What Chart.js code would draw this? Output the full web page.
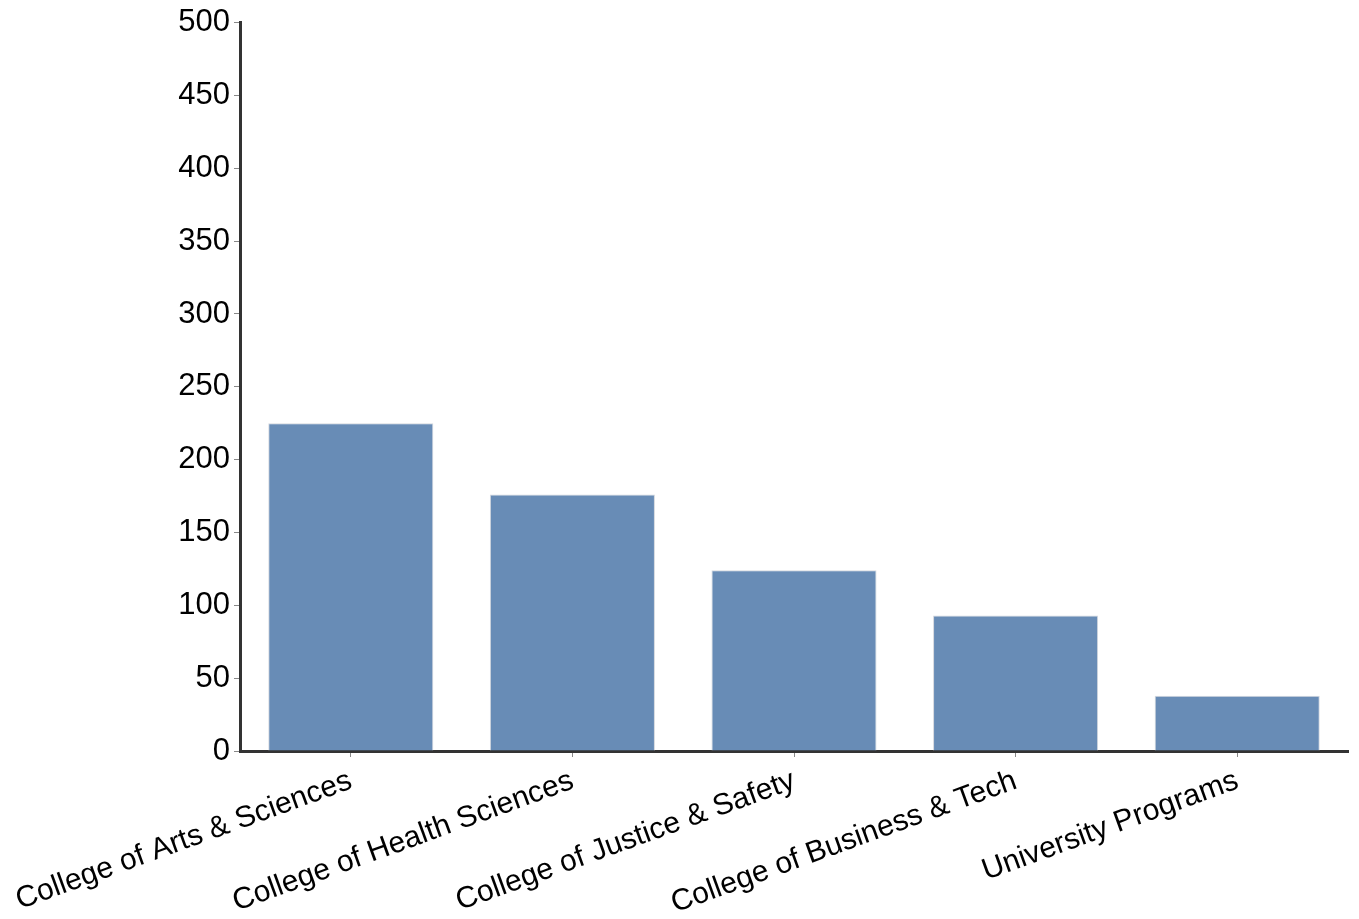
<!DOCTYPE html>
<html>
<head>
<meta charset="utf-8">
<script src="https://cdn.jsdelivr.net/npm/chart.js@4"></script>
<style>
  html, body { margin: 0; padding: 0; background: #fff; }
  #wrap { width: 1359px; height: 919px; }
</style>
</head>
<body>
<div id="wrap"><canvas id="collegeChart" width="1359" height="919"></canvas></div>
<script>
// Data
const colleges = [
  'College of Arts & Sciences',
  'College of Health Sciences',
  'College of Justice & Safety',
  'College of Business & Tech',
  'University Programs'
];
const counts = [225, 176, 124, 93, 38];
const yMin = 0;
const yMax = 500;
const yStep = 50;

const ctx = document.getElementById('collegeChart');
new Chart(ctx, {
  type: 'bar',
  data: {
    labels: colleges,
    datasets: [{
      data: counts,
      backgroundColor: '#688cb6',
      borderColor: '#d4d8de',
      borderWidth: 1,
      barPercentage: 0.745,
      categoryPercentage: 1
    }]
  },
  options: {
    responsive: false,
    animation: false,
    layout: { padding: { top: 19, right: 11, left: 0, bottom: 0 } },
    plugins: { legend: { display: false }, tooltip: { enabled: false } },
    scales: {
      x: {
        grid: { offset: false, drawOnChartArea: false, drawTicks: true, tickLength: 6, tickColor: '#888' },
        border: { color: '#333', width: 3 },
        ticks: {
          color: '#000',
          font: { family: 'Liberation Sans, Arial, sans-serif', size: 30 },
          autoSkip: false,
          minRotation: 20,
          maxRotation: 20,
          padding: 6
        },
        afterFit: s => { s.height = 168; s.paddingLeft = 0; s.paddingRight = 0; }
      },
      y: {
        min: yMin,
        max: yMax,
        grid: { drawOnChartArea: false, drawTicks: true, tickLength: 6, tickColor: '#888' },
        border: { color: '#333', width: 3 },
        ticks: {
          stepSize: yStep,
          color: '#000',
          font: { family: 'Liberation Sans, Arial, sans-serif', size: 31 },
          padding: 4
        },
        afterFit: s => { s.width = 240; }
      }
    }
  }
});
</script>
</body>
</html>
